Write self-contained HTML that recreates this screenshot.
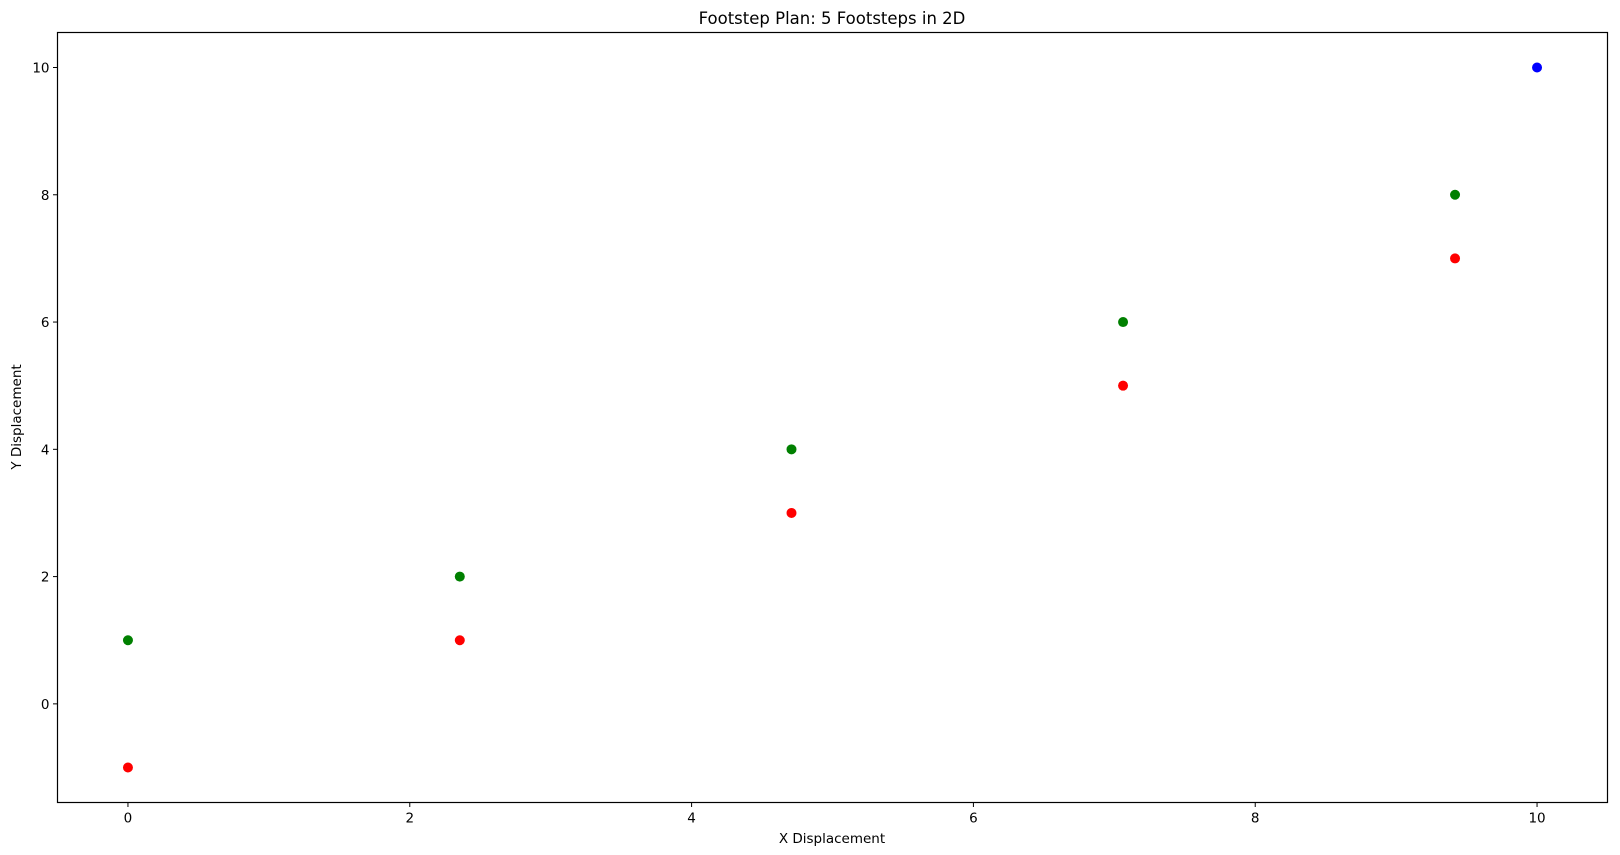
<!DOCTYPE html>
<html><head><meta charset="utf-8"><style>
html,body{margin:0;padding:0;background:#fff;}
svg{display:block;font-family:"DejaVu Sans","Liberation Sans",sans-serif;}
</style></head><body>
<svg id="chart" width="1620" height="855" xmlns="http://www.w3.org/2000/svg">
<text x="832" y="24" font-size="16.5" text-anchor="middle">Footstep Plan: 5 Footsteps in 2D</text>
<g id="axes"></g>
<g id="marks"></g>
<rect x="57.5" y="32.5" width="1550" height="770" fill="none" stroke="#000" stroke-width="1.2"/>
<text x="832" y="843" font-size="13.5" text-anchor="middle">X Displacement</text>
<text x="21" y="417" font-size="13.5" text-anchor="middle" transform="rotate(-90 21 417)">Y Displacement</text>
</svg>
<script>
const greenX=[0,2.355,4.709,7.062,9.418];
const greenY=[1,2,4,6,8];
const redX=[0,2.355,4.709,7.062,9.418];
const redY=[-1,1,3,5,7];
const blueX=[10];
const blueY=[10];
const xTicks=[0,2,4,6,8,10];
const yTicks=[0,2,4,6,8,10];
const L=57.5,T=32.5,W=1550,H=770;
const xmin=-0.5,xmax=10.5,ymin=-1.55,ymax=10.55;
const sx=v=>L+(v-xmin)/(xmax-xmin)*W;
const sy=v=>T+H-(v-ymin)/(ymax-ymin)*H;
const NS="http://www.w3.org/2000/svg";
const axes=document.getElementById('axes'),marks=document.getElementById('marks');
function mk(t,a,p){const e=document.createElementNS(NS,t);for(const k in a)e.setAttribute(k,a[k]);p.appendChild(e);return e;}
xTicks.forEach(v=>{
 const l=mk('line',{x1:sx(v),x2:sx(v),y1:T+H,y2:T+H+4.5,stroke:'#000','stroke-width':1},axes);
 
 
 const t=mk('text',{x:sx(v),y:T+H+20,'font-size':13.5,'text-anchor':'middle'},axes);t.textContent=v;
 
 
});
yTicks.forEach(v=>{
 const l=mk('line',{x1:L-4.5,x2:L,y1:sy(v),y2:sy(v),stroke:'#000','stroke-width':1},axes);
 
 
 const t=mk('text',{x:L-8,y:sy(v)+5,'font-size':13.5,'text-anchor':'end'},axes);t.textContent=v;
 
 
});
function pts(xs,ys,c,n){xs.forEach((x,i)=>{
 const e=mk('circle',{cx:sx(x),cy:sy(ys[i]),r:5,fill:c},marks);
 
 
});}
pts(greenX,greenY,'#008000','left-footstep-point');
pts(redX,redY,'#ff0000','right-footstep-point');
pts(blueX,blueY,'#0000ff','goal-point');
</script>
</body></html>
